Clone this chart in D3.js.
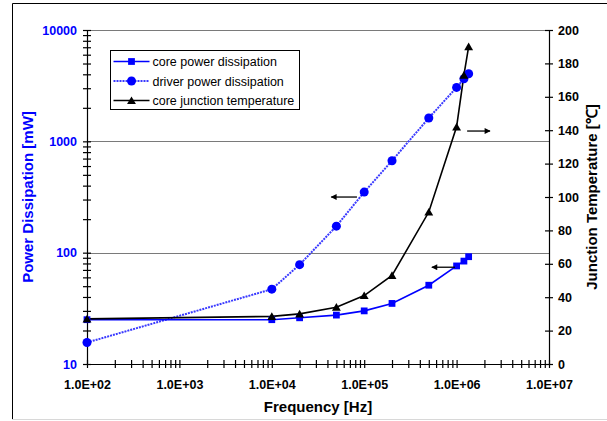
<!DOCTYPE html>
<html>
<head>
<meta charset="utf-8">
<script src="https://cdn.jsdelivr.net/npm/d3@7"></script>
<style>
    body { margin: 0; background: #fff; }
    text { font-family: "Liberation Sans", Arial, sans-serif; }
</style>
</head>
<body>
<div class="chart"></div>
<script>
// data
var freq = [1e2, 1e4, 2e4, 5e4, 1e5, 2e5, 5e5, 1e6, 1.2e6, 1.35e6];
var corePower = [25, 25, 26, 27.5, 30, 35, 51, 76, 84, 92];
var driverPower = [15.6, 47, 78, 173, 350, 670, 1620, 3050, 3650, 4050];
var junctionTemp = [27, 28.5, 30, 34, 41, 53, 91, 142, 173, 190];

var seriesNames = ['core power dissipation', 'driver power dissipation', 'core junction temperature'];

var freqTicks = [1e2, 1e3, 1e4, 1e5, 1e6, 1e7];
var freqLabels = ['1.0E+02', '1.0E+03', '1.0E+04', '1.0E+05', '1.0E+06', '1.0E+07'];
var powerTicks = [10, 100, 1000, 10000];
var powerLabels = ['10', '100', '1000', '10000'];
var tempTicks = [0, 20, 40, 60, 80, 100, 120, 140, 160, 180, 200];

// arrows pointing each curve to its axis (data units)
var arrowFreq = [[8.35e4, 4.4e4], [9.6e5, 5.4e5], [1.3e6, 2.3e6]];
var arrowLevel = [316, 74, 139.5];
var arrowAxis = ['power', 'power', 'temp'];

var margin = {top: 30, left: 87, right: 58, bottom: 57},
    width = 607 - margin.left - margin.right,
    height = 421 - margin.top - margin.bottom;

var x = d3.scaleLog().domain([1e2, 1e7]).range([0, width]);
var y = d3.scaleLog().domain([10, 10000]).range([height, 0]);
var y2 = d3.scaleLinear().domain([0, 200]).range([height, 0]);

function labelFor(ticks, labels) {
    return function(d) {
        for (var i = 0; i < ticks.length; i++) {
            if (Math.abs(d - ticks[i]) / ticks[i] < 1e-9) return labels[i];
        }
        return '';
    };
}

var root = d3.select('.chart')
            .append('svg')
            .attr('width', 607)
            .attr('height', 421);

// outer frame
root.append('path')
    .attr('d', 'M12.5,419V3.5H607')
    .attr('fill', 'none')
    .attr('stroke', '#000')
    .attr('stroke-width', 1);
root.append('line')
    .attr('x1', 12).attr('x2', 607)
    .attr('y1', 419.5).attr('y2', 419.5)
    .attr('stroke', '#d8d8d8');

var svg = root.append('g')
            .attr('transform', 'translate(' + margin.left + ',' + margin.top + ')');

// gridlines
svg.selectAll('.grid')
    .data(powerTicks.slice(1))
    .enter().append('line')
    .attr('class', 'grid')
    .attr('x1', 0).attr('x2', width)
    .attr('y1', d => Math.round(y(d)) + 0.5)
    .attr('y2', d => Math.round(y(d)) + 0.5)
    .attr('stroke', '#7a7a7a')
    .attr('stroke-width', 1);

// xAxis
var xAxis = d3.axisBottom(x)
    .tickValues(x.ticks())
    .tickFormat(labelFor(freqTicks, freqLabels))
    .tickSizeInner(4).tickSizeOuter(0).tickPadding(12);
var gx = svg.append('g')
    .attr('transform', 'translate(0,' + height + ')')
    .call(xAxis);
gx.selectAll('.tick line').attr('y1', -4);
gx.selectAll('text').attr('font-size', 12.5).attr('font-weight', 'bold').attr('fill', '#000');

// yAxis (power)
var yAxis = d3.axisLeft(y)
    .tickValues(y.ticks())
    .tickFormat(labelFor(powerTicks, powerLabels))
    .tickSizeInner(4).tickSizeOuter(0).tickPadding(6);
var gy = svg.append('g').call(yAxis);
gy.selectAll('.tick line').attr('x1', 4);
gy.selectAll('text').attr('font-size', 12.5).attr('font-weight', 'bold').attr('fill', '#0000ff');

// yAxis (temperature)
var y2Axis = d3.axisRight(y2)
    .tickValues(tempTicks)
    .tickSizeInner(4).tickSizeOuter(0).tickPadding(5);
var gy2 = svg.append('g')
    .attr('transform', 'translate(' + width + ',0)')
    .call(y2Axis);
gy2.selectAll('.tick line').attr('x1', -4);
gy2.selectAll('text').attr('font-size', 12.5).attr('font-weight', 'bold').attr('fill', '#000');

[gx, gy, gy2].forEach(g => {
    g.selectAll('path, line').attr('stroke', '#000').attr('stroke-width', 1.2);
});

// axis titles
root.append('text')
    .attr('x', margin.left + width / 2)
    .attr('y', 412)
    .attr('text-anchor', 'middle')
    .attr('font-size', 15)
    .attr('font-weight', 'bold')
    .text('Frequency [Hz]');

root.append('text')
    .attr('transform', 'translate(33,' + (margin.top + height / 2) + ') rotate(-90)')
    .attr('text-anchor', 'middle')
    .attr('font-size', 15)
    .attr('font-weight', 'bold')
    .attr('fill', '#0000ff')
    .text('Power Dissipation [mW]');

root.append('text')
    .attr('transform', 'translate(597,' + (margin.top + height / 2) + ') rotate(-90)')
    .attr('text-anchor', 'middle')
    .attr('font-size', 15)
    .attr('font-weight', 'bold')
    .text('Junction Temperature [\u2103]');

// lines
var idx = d3.range(freq.length);
var powerLine = vals => d3.line().x(i => x(freq[i])).y(i => y(vals[i]))(idx);
var tempLine = d3.line().x(i => x(freq[i])).y(i => y2(junctionTemp[i]))(idx);

svg.append('path')
    .attr('d', powerLine(driverPower))
    .attr('fill', 'none')
    .attr('stroke', '#3a3aff')
    .attr('stroke-width', 2)
    .attr('stroke-dasharray', '2,1');

svg.append('path')
    .attr('d', powerLine(corePower))
    .attr('fill', 'none')
    .attr('stroke', '#0000ff')
    .attr('stroke-width', 1.6);

svg.append('path')
    .attr('d', tempLine)
    .attr('fill', 'none')
    .attr('stroke', '#000')
    .attr('stroke-width', 1.6);

// markers
var square = d3.symbol().type(d3.symbolSquare).size(46);
var circle = d3.symbol().type(d3.symbolCircle).size(64);
var triangle = d3.symbol().type(d3.symbolTriangle).size(34);

svg.selectAll('.core')
    .data(idx)
    .enter().append('path')
    .attr('class', 'core')
    .attr('d', square)
    .attr('transform', i => 'translate(' + x(freq[i]) + ',' + y(corePower[i]) + ')')
    .attr('fill', '#0000ff');

svg.selectAll('.driver')
    .data(idx)
    .enter().append('path')
    .attr('class', 'driver')
    .attr('d', circle)
    .attr('transform', i => 'translate(' + x(freq[i]) + ',' + y(driverPower[i]) + ')')
    .attr('fill', '#0000ff');

svg.selectAll('.temp')
    .data(idx)
    .enter().append('path')
    .attr('class', 'temp')
    .attr('d', triangle)
    .attr('transform', i => 'translate(' + x(freq[i]) + ',' + (y2(junctionTemp[i]) + 1) + ')')
    .attr('fill', '#000');

// arrows
root.append('defs').append('marker')
    .attr('id', 'head')
    .attr('viewBox', '0 0 10 10')
    .attr('refX', 9).attr('refY', 5)
    .attr('markerWidth', 7).attr('markerHeight', 6)
    .attr('markerUnits', 'userSpaceOnUse')
    .attr('orient', 'auto')
    .append('path')
    .attr('d', 'M0,0L10,5L0,10Z')
    .attr('fill', '#000');

svg.selectAll('.arrow')
    .data(d3.range(arrowFreq.length))
    .enter().append('line')
    .attr('class', 'arrow')
    .attr('x1', i => x(arrowFreq[i][0]))
    .attr('x2', i => x(arrowFreq[i][1]))
    .attr('y1', i => arrowAxis[i] === 'power' ? y(arrowLevel[i]) : y2(arrowLevel[i]))
    .attr('y2', i => arrowAxis[i] === 'power' ? y(arrowLevel[i]) : y2(arrowLevel[i]))
    .attr('stroke', '#000')
    .attr('stroke-width', 1.3)
    .attr('marker-end', 'url(#head)');

// Legend
var legend = root.append('g').attr('transform', 'translate(110.5,50.5)');
legend.append('rect')
    .attr('width', 189).attr('height', 59)
    .attr('fill', '#fff')
    .attr('stroke', '#000')
    .attr('stroke-width', 1);

var legendRow = legend.selectAll('.row')
    .data(seriesNames)
    .enter().append('g')
    .attr('class', 'row')
    .attr('transform', (d, i) => 'translate(0,' + (11 + i * 19.5) + ')');

legendRow.append('line')
    .attr('x1', 3).attr('x2', 39)
    .attr('stroke', (d, i) => i === 1 ? '#3a3aff' : (i === 0 ? '#0000ff' : '#000'))
    .attr('stroke-width', (d, i) => i === 1 ? 2 : 1.6)
    .attr('stroke-dasharray', (d, i) => i === 1 ? '2,1' : null);

legendRow.append('path')
    .attr('d', (d, i) => [square, circle, triangle][i]())
    .attr('transform', (d, i) => 'translate(21,' + (i === 2 ? 1 : 0) + ')')
    .attr('fill', (d, i) => i === 2 ? '#000' : '#0000ff');

legendRow.append('text')
    .attr('x', 42)
    .attr('y', 4.5)
    .attr('font-size', 12.5)
    .text(d => d);
</script>
</body>
</html>
